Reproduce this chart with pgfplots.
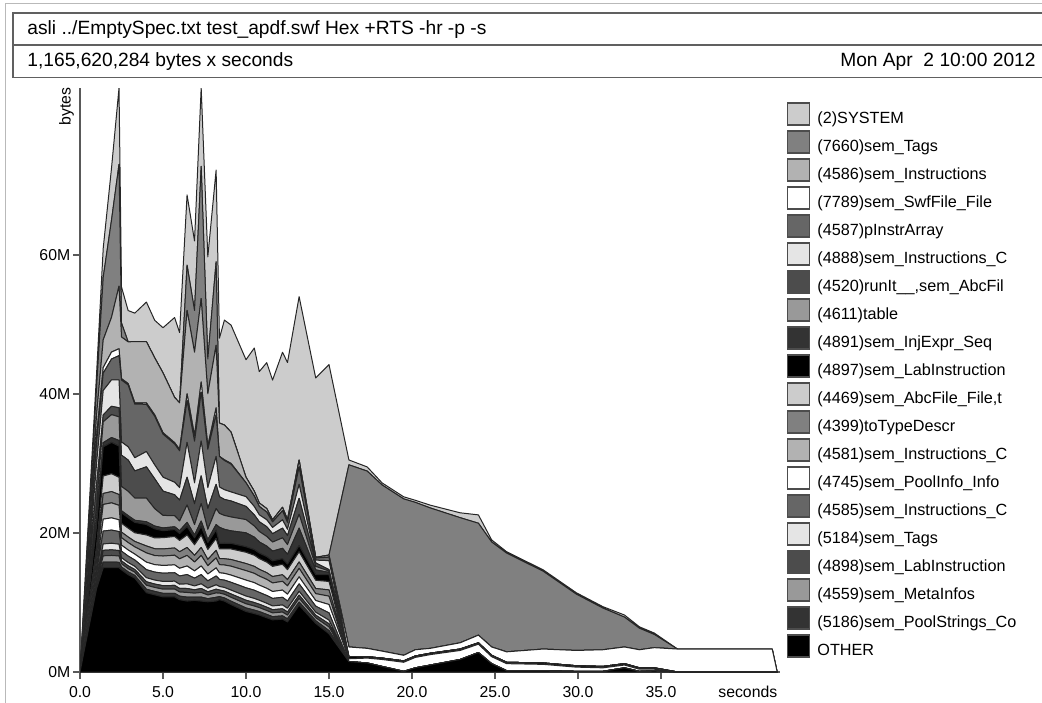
\documentclass[border=0pt]{standalone}
\usepackage{pgfplots}
\pgfplotsset{compat=1.18}
\usepackage{pgfplotstable}
\usepackage{fontspec}
\setmainfont{Liberation Sans}
\newcommand\axfont{\fontsize{7.9}{9.5}\selectfont}
\newcommand\legfont{\fontsize{8.1}{9.7}\selectfont}
\newcommand\hdfont{\fontsize{9.6}{11.5}\selectfont}

\pgfplotstableread{
t OTH a5186 a4559 a4898 a5184 a4585 a4745 a4581 a4399 a4469 a4897 a4891 a4611 a4520 a4888 a4587 a7789 a4586 a7660 SYS
0 0 0 0 0 0 0 0 0 0 0 0 0 0 0 0 0 0 0 0 0
1.0 12 .36 .42 .36 .42 .84 .78 .96 .72 1.14 3 1 2 3 3 3 1 3 4 2
1.4 15 .79 .92 .79 .92 1.85 1.72 2.11 1.58 2.51 4.2 .6 3.0 1.0 3.5 2.5 .8 4 9 4.2
1.9 15 .81 .95 .81 .95 1.89 1.76 2.16 1.62 2.57 4.5 .7 3.3 1.2 3.8 3 1 5 14 7.5
2.35 15 .78 .91 .78 .91 1.82 1.69 2.08 1.56 2.47 4.5 .8 3.4 1.3 4 3.5 1 9 17.5 11
2.5 14.7 .40 .47 .40 .47 .94 .87 1.07 .80 1.27 1.5 .3 3.5 4.5 1.9 8.9 .2 6 2 5.2
2.9 14 .40 .47 .40 .47 .94 .87 1.07 .80 1.27 1.5 .3 3.5 4.5 1.9 8.9 .2 6 0 4.5
3.3 13.5 .39 .46 .39 .46 .91 .85 1.04 .78 1.24 1.5 .3 3.2 3.9 1.9 7.7 .2 8.8 0 4.1
4.0 11.4 .50 .58 .50 .58 1.16 1.08 1.33 1.00 1.58 1.5 .4 3.4 4.5 2.2 6.8 .2 8.8 0 5.7
4.5 11.1 .49 .57 .49 .57 1.15 1.07 1.31 .98 1.56 1.3 .4 2.5 4.3 2.0 7.0 .2 8.2 0 5.4
5.0 10.8 .51 .60 .51 .60 1.19 1.11 1.36 1.02 1.62 1.0 .4 1.8 3.5 2 6.2 .2 8.6 0 6.5
5.7 10.8 .52 .61 .52 .61 1.22 1.13 1.39 1.04 1.65 1.0 .4 1.6 3.0 1.8 5.5 .2 6.5 0 11.5
6.0 10.4 .51 .60 .51 .60 1.19 1.11 1.36 1.02 1.62 1.0 .4 1.4 3.0 1.8 5.3 .2 6.7 0 10.1
6.45 10.2 .57 .67 .57 .67 1.33 1.24 1.52 1.14 1.81 1.2 .6 2.5 4 5 6 1 12 6.5 10.1
6.9 10.3 .48 .56 .48 .56 1.12 1.04 1.28 .96 1.52 1.0 .4 1.5 3 3 6 .8 12 6 10
7.3 10.2 .57 .67 .57 .67 1.33 1.24 1.52 1.14 1.81 1.2 .8 2.5 4 5 7 1.5 12 19 11.3
7.7 10.1 .45 .53 .45 .53 1.05 .98 1.20 .90 1.43 1 .4 1.5 3 3 5.5 .5 7.5 5 14.7
8.2 10.2 .54 .63 .54 .63 1.26 1.17 1.44 1.08 1.71 1.2 .8 2.3 3.5 4 6 1 9 12 13.2
8.4 10.4 .44 .51 .44 .51 1.02 .95 1.17 .88 1.39 .8 2.3 2.0 2.4 1.4 4.4 0 4.8 0 12.2
8.7 10.2 .45 .53 .45 .53 1.05 .98 1.20 .90 1.43 .8 2.0 2.0 2.3 1.4 4.2 .1 5 0 15.1
9.1 9.7 .48 .56 .48 .56 1.12 1.04 1.28 .96 1.52 .8 1.8 2 2.3 1.3 4 .1 4.5 0 15.4
10.0 8.7 .51 .60 .51 .60 1.19 1.11 1.36 1.02 1.62 .8 2 1.9 1.9 1.4 2 0 .8 0 16.9
10.5 8.4 .50 .59 .50 .59 1.18 1.09 1.34 1.01 1.60 .8 1.8 1.6 1.6 1.2 1.5 0 .7 0 20.6
10.8 8.2 .49 .57 .49 .57 1.13 1.05 1.30 .97 1.54 .8 1.6 1.5 1.4 1.0 1.2 0 .5 0 18.9
11.25 7.8 .48 .56 .48 .56 1.12 1.04 1.28 .96 1.52 .8 1.5 1.4 1.4 1.0 1.1 0 .5 0 21
11.6 7.5 .46 .54 .46 .54 1.08 1.00 1.23 .92 1.46 .8 1.4 1.3 1.2 .9 .8 0 .3 0 20.1
12.2 7.6 .47 .55 .47 .55 1.11 1.03 1.26 .95 1.50 .8 1.5 1.5 1.4 1.2 1.3 0 .5 0 22.3
12.5 7.2 .45 .53 .45 .53 1.05 .98 1.20 .90 1.43 .8 1.4 1.4 1.3 .9 1.0 0 .4 0 22.6
13.2 9.6 .46 .54 .46 .54 1.08 1.00 1.23 .92 1.46 .9 2.5 2.0 2.3 2.0 2.5 0 1.0 0 23.5
14.2 7 .37 .43 .37 .43 .87 .81 .99 .74 1.18 .8 .7 .5 .5 .4 .3 0 .1 0 25.8
15.0 5.5 .45 .53 .45 .53 1.05 1.20 1.20 .90 1.21 1.0 .3 .2 .2 1.3 .5 0 .3 0 27.4
16.2 1.5 0 0 0 0 0 .4 0 0 0 .3 0 0 0 0 0 1.4 0 26.2 .7
17.3 1.3 0 0 0 0 0 .7 0 0 0 .2 0 0 0 0 0 1.2 0 25.5 .6
18.2 .8 0 0 0 0 0 1.0 0 0 0 .2 0 0 0 0 0 1.0 0 23.9 .3
19.5 .1 0 0 0 0 0 1.3 0 0 0 .2 0 0 0 0 0 .8 0 22.5 .3
20.2 .6 0 0 0 0 0 1.5 0 0 0 .2 0 0 0 0 0 .9 0 21.2 .3
21.1 1.0 0 0 0 0 0 1.5 0 0 0 .2 0 0 0 0 0 .7 0 20.2 .4
22.9 1.8 0 0 0 0 0 1.3 0 0 0 .2 0 0 0 0 0 .9 0 18.0 .7
24.0 2.8 0 0 0 0 0 1.2 0 0 0 .2 0 0 0 0 0 1.1 0 16.1 1.2
24.8 1.2 0 0 0 0 0 1.0 0 0 0 .2 0 0 0 0 0 1.2 0 15.1 .3
25.7 .2 0 0 0 0 0 1.0 0 0 0 .2 0 0 0 0 0 1.5 0 14.2 .2
27.9 .2 0 0 0 0 0 .9 0 0 0 .2 0 0 0 0 0 2.0 0 11.2 .2
29.9 .1 0 0 0 0 0 .6 0 0 0 .2 0 0 0 0 0 2.2 0 8.1 .2
31.5 .1 0 0 0 0 0 .5 0 0 0 .2 0 0 0 0 0 2.4 0 6.0 .2
32.8 .6 0 0 0 0 0 .4 0 0 0 .2 0 0 0 0 0 2.4 0 4.3 .3
33.7 .1 0 0 0 0 0 .3 0 0 0 .2 0 0 0 0 0 2.6 0 3.1 .2
34.6 .2 0 0 0 0 0 .2 0 0 0 .2 0 0 0 0 0 2.9 0 1.9 .2
36.0 0 0 0 0 0 0 0 0 0 0 0 0 0 0 0 0 3.3 0 0 0
41.7 0 0 0 0 0 0 0 0 0 0 0 0 0 0 0 0 3.3 0 0 0
42.0 0 0 0 0 0 0 0 0 0 0 0 0 0 0 0 0 0 0 0 0
}\data

\newcommand\legitem[3]{%
  \pgfmathsetmacro\yc{114+28*#1}%
  \draw[fill=#2, draw=gray!60!black, line width=0.6pt] (787.5,{\yc-11}) rectangle (809.5,{\yc+11});
  \node[anchor=base west, inner sep=0pt, font=\legfont] at (817,{\yc+9.5}) {#3};}

\begin{document}
\begin{tikzpicture}
\useasboundingbox (0,0) rectangle (521pt,351pt);
\begin{axis}[at={(40pt,15pt)}, anchor=south west, scale only axis,
  width=350pt, height=292pt,
  xmin=0, xmax=42.17, ymin=0, ymax=84,
  stack plots=y,
  axis lines*=left,
  axis line style={-, draw=gray!70!black, line width=0.75pt},
  tick align=outside, major tick length=3.5pt,
  tick style={draw=gray!70!black, line width=0.75pt},
  xtick={0,5,10,15,20,25,30,35},
  xticklabels={0.0,5.0,10.0,15.0,20.0,25.0,30.0,35.0},
  ytick={0,20,40,60},
  yticklabels={0M,20M,40M,60M},
  tick label style={font=\axfont},
  xticklabel style={anchor=base, inner sep=0pt, yshift=-9pt},
  yticklabel style={anchor=east, inner sep=0pt, xshift=-1.2pt},
  every axis plot/.append style={draw=black!85, line width=0.5pt, line join=round},
]
\addplot[fill=black] table[x=t,y=OTH]{\data} \closedcycle;
\addplot[fill=black!80] table[x=t,y=a5186]{\data} \closedcycle;
\addplot[fill=black!40] table[x=t,y=a4559]{\data} \closedcycle;
\addplot[fill=black!70] table[x=t,y=a4898]{\data} \closedcycle;
\addplot[fill=black!10] table[x=t,y=a5184]{\data} \closedcycle;
\addplot[fill=black!60] table[x=t,y=a4585]{\data} \closedcycle;
\addplot[fill=white] table[x=t,y=a4745]{\data} \closedcycle;
\addplot[fill=black!30] table[x=t,y=a4581]{\data} \closedcycle;
\addplot[fill=black!50] table[x=t,y=a4399]{\data} \closedcycle;
\addplot[fill=black!20] table[x=t,y=a4469]{\data} \closedcycle;
\addplot[fill=black] table[x=t,y=a4897]{\data} \closedcycle;
\addplot[fill=black!80] table[x=t,y=a4891]{\data} \closedcycle;
\addplot[fill=black!40] table[x=t,y=a4611]{\data} \closedcycle;
\addplot[fill=black!70] table[x=t,y=a4520]{\data} \closedcycle;
\addplot[fill=black!10] table[x=t,y=a4888]{\data} \closedcycle;
\addplot[fill=black!60] table[x=t,y=a4587]{\data} \closedcycle;
\addplot[fill=white] table[x=t,y=a7789]{\data} \closedcycle;
\addplot[fill=black!30] table[x=t,y=a4586]{\data} \closedcycle;
\addplot[fill=black!50] table[x=t,y=a7660]{\data} \closedcycle;
\addplot[fill=black!20] table[x=t,y=SYS]{\data} \closedcycle;
\end{axis}
\begin{scope}[x=0.5pt,y=-0.5pt,yshift=351pt]
\draw[gray!55, line width=0.5pt] (5,710) -- (5,4) -- (1050,4);
\draw[gray!75!black, line width=0.8pt] (1050,13) -- (13,13) -- (13,77.5) -- (1050,77.5);
\draw[gray!75!black, line width=0.8pt] (13,45) -- (1050,45);
\node[anchor=base west, inner sep=0pt, font=\hdfont] at (27,35) {asli ../EmptySpec.txt test\_apdf.swf Hex +RTS -hr -p -s};
\node[anchor=base west, inner sep=0pt, font=\hdfont] at (27,66.7) {1,165,620,284 bytes x seconds};
\node[anchor=base east, inner sep=0pt, font=\hdfont] at (1036,66.7) {Mon Apr~~2 10:00 2012};
\node[rotate=90, anchor=base east, inner sep=0pt, font=\axfont] at (70.5,87) {bytes};
\node[anchor=base west, inner sep=0pt, font=\axfont] at (718,697.5) {seconds};
\legitem{0}{black!20}{(2)SYSTEM}
\legitem{1}{black!50}{(7660)sem\_Tags}
\legitem{2}{black!30}{(4586)sem\_Instructions}
\legitem{3}{white}{(7789)sem\_SwfFile\_File}
\legitem{4}{black!60}{(4587)pInstrArray}
\legitem{5}{black!10}{(4888)sem\_Instructions\_C}
\legitem{6}{black!70}{(4520)runIt\_\_,sem\_AbcFil}
\legitem{7}{black!40}{(4611)table}
\legitem{8}{black!80}{(4891)sem\_InjExpr\_Seq}
\legitem{9}{black}{(4897)sem\_LabInstruction}
\legitem{10}{black!20}{(4469)sem\_AbcFile\_File,t}
\legitem{11}{black!50}{(4399)toTypeDescr}
\legitem{12}{black!30}{(4581)sem\_Instructions\_C}
\legitem{13}{white}{(4745)sem\_PoolInfo\_Info}
\legitem{14}{black!60}{(4585)sem\_Instructions\_C}
\legitem{15}{black!10}{(5184)sem\_Tags}
\legitem{16}{black!70}{(4898)sem\_LabInstruction}
\legitem{17}{black!40}{(4559)sem\_MetaInfos}
\legitem{18}{black!80}{(5186)sem\_PoolStrings\_Co}
\legitem{19}{black}{OTHER}
\end{scope}
\end{tikzpicture}
\end{document}
